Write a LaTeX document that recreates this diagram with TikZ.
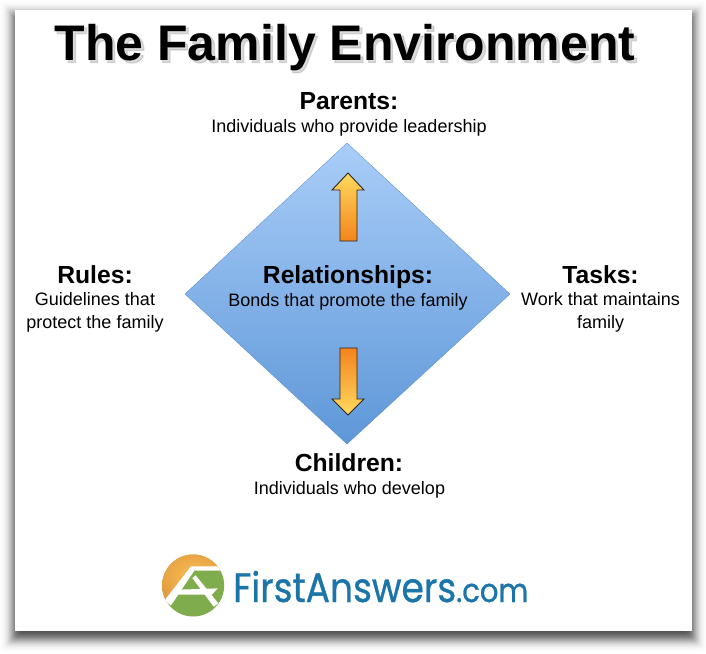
\documentclass[tikz,border=0pt]{standalone}
\usepackage{fontspec}
\setmainfont{Liberation Sans}
\newfontfamily\logofont[FakeStretch=0.88,FakeBold=0.8]{Poppins}
\newfontfamily\haloFont[FakeBold=2.5]{Liberation Sans Bold}
\definecolor{logoblue}{HTML}{1B75A8}
\definecolor{logoorange}{HTML}{E59B3F}
\definecolor{logoorangelight}{HTML}{F6BF55}
\definecolor{logogreen}{HTML}{7FAC4C}
\definecolor{diatop}{HTML}{A9CDF8}
\definecolor{diabot}{HTML}{5E97D8}
\definecolor{arrowlight}{HTML}{FFD95E}
\definecolor{arrowdark}{HTML}{F4841C}
\tikzset{
  x=1pt,y=-1pt,
  heading/.style={font=\fontsize{24.7}{26}\selectfont\bfseries,inner sep=0pt,anchor=base},
  body/.style={font=\fontsize{18}{23}\selectfont,align=center,inner sep=0pt,anchor=base},
  bodytwo/.style={font=\fontsize{18}{23}\selectfont,align=center,inner sep=0pt,anchor=center},
  arrowshape/.style={draw=black!85,line width=0.9pt,line join=miter},
}
\begin{document}
\begin{tikzpicture}
\useasboundingbox (0,0) rectangle (706,653);
\fill[white] (0,0) rectangle (706,653);
% soft shadow
\foreach \d in {-16,-15,...,16}{
  \pgfmathsetmacro{\op}{0.08*exp(-\d*\d/72)}
  \fill[black,opacity=\op,rounded corners=3pt] (15-\d,16-\d) rectangle (692+\d,637+\d);
}
\fill[white] (15,10) rectangle (692,631);
% title with shadow
\node[font=\fontsize{50}{56}\selectfont\haloFont,text=black!35,opacity=.4,inner sep=0pt,anchor=base] at (347,62.5) {The Family Environment};
\node (title) [font=\fontsize{50}{56}\selectfont\bfseries,inner sep=0pt,anchor=base] at (345,60) {The Family Environment};
% diamond
\coordinate (dt) at (347,143);
\coordinate (dr) at (510,294);
\coordinate (db) at (347,444);
\coordinate (dl) at (185,294);
\shade[top color=diatop,bottom color=diabot,draw=diabot!90!black,line width=0.3pt] (dt) -- (dr) -- (db) -- (dl) -- cycle;
% arrows
\shade[arrowshape,top color=arrowlight,bottom color=arrowdark]
  (348,173) -- (364,190) -- (357,190) -- (357,241) -- (340,241) -- (340,190) -- (332,190) -- cycle;
\shade[arrowshape,top color=arrowdark,bottom color=arrowlight]
  (348,415) -- (364,399) -- (357,399) -- (357,348) -- (340,348) -- (340,399) -- (332,399) -- cycle;
% labels
\node (parents) [heading] at (349,109) {Parents:};
\node (parentsb) [body] at (349,132) {Individuals who provide leadership};
\node (rel) [heading] at (348,283) {Relationships:};
\node (relb) [body] at (348,306) {Bonds that promote the family};
\node (rules) [heading] at (95,283) {Rules:};
\node (rulesb) [bodytwo] at (95,312) {Guidelines that\\protect the family};
\node (tasks) [heading] at (600.5,283) {Tasks:};
\node (tasksb) [bodytwo] at (600.5,312) {Work that maintains\\family};
\node (children) [heading] at (349,471) {Children:};
\node (childrenb) [body] at (349.5,494) {Individuals who develop};
% logo
\begin{scope}[shift={(155,548)},x=0.3333pt,y=-0.3333pt]
\begin{scope}
\clip (114.5,112.5) circle (93);
\fill[logogreen] (0,0) rectangle (230,230);
\shade[inner color=logoorangelight,outer color=logoorange] (0,0) -- (230,0) -- (230,62) -- (108,62) -- (38,165) -- (0,165) -- cycle;
\fill[white] (108,55) -- (230,55) -- (230,68) -- (118,68) -- (48,172) -- (28,158) -- cycle;
\fill[white] (70,125) -- (188,121) -- (171,140) -- (56,140) -- cycle;
\fill[white] (112,90) -- (122,82) -- (190,166) -- (176,176) -- cycle;
\end{scope}
\end{scope}
\node (logo) [font=\fontsize{41}{44}\selectfont\logofont,text=logoblue,inner sep=0pt,anchor=base west] at (233,602) {FirstAnswers\fontsize{33}{30}\selectfont.com};
\end{tikzpicture}
\end{document}
